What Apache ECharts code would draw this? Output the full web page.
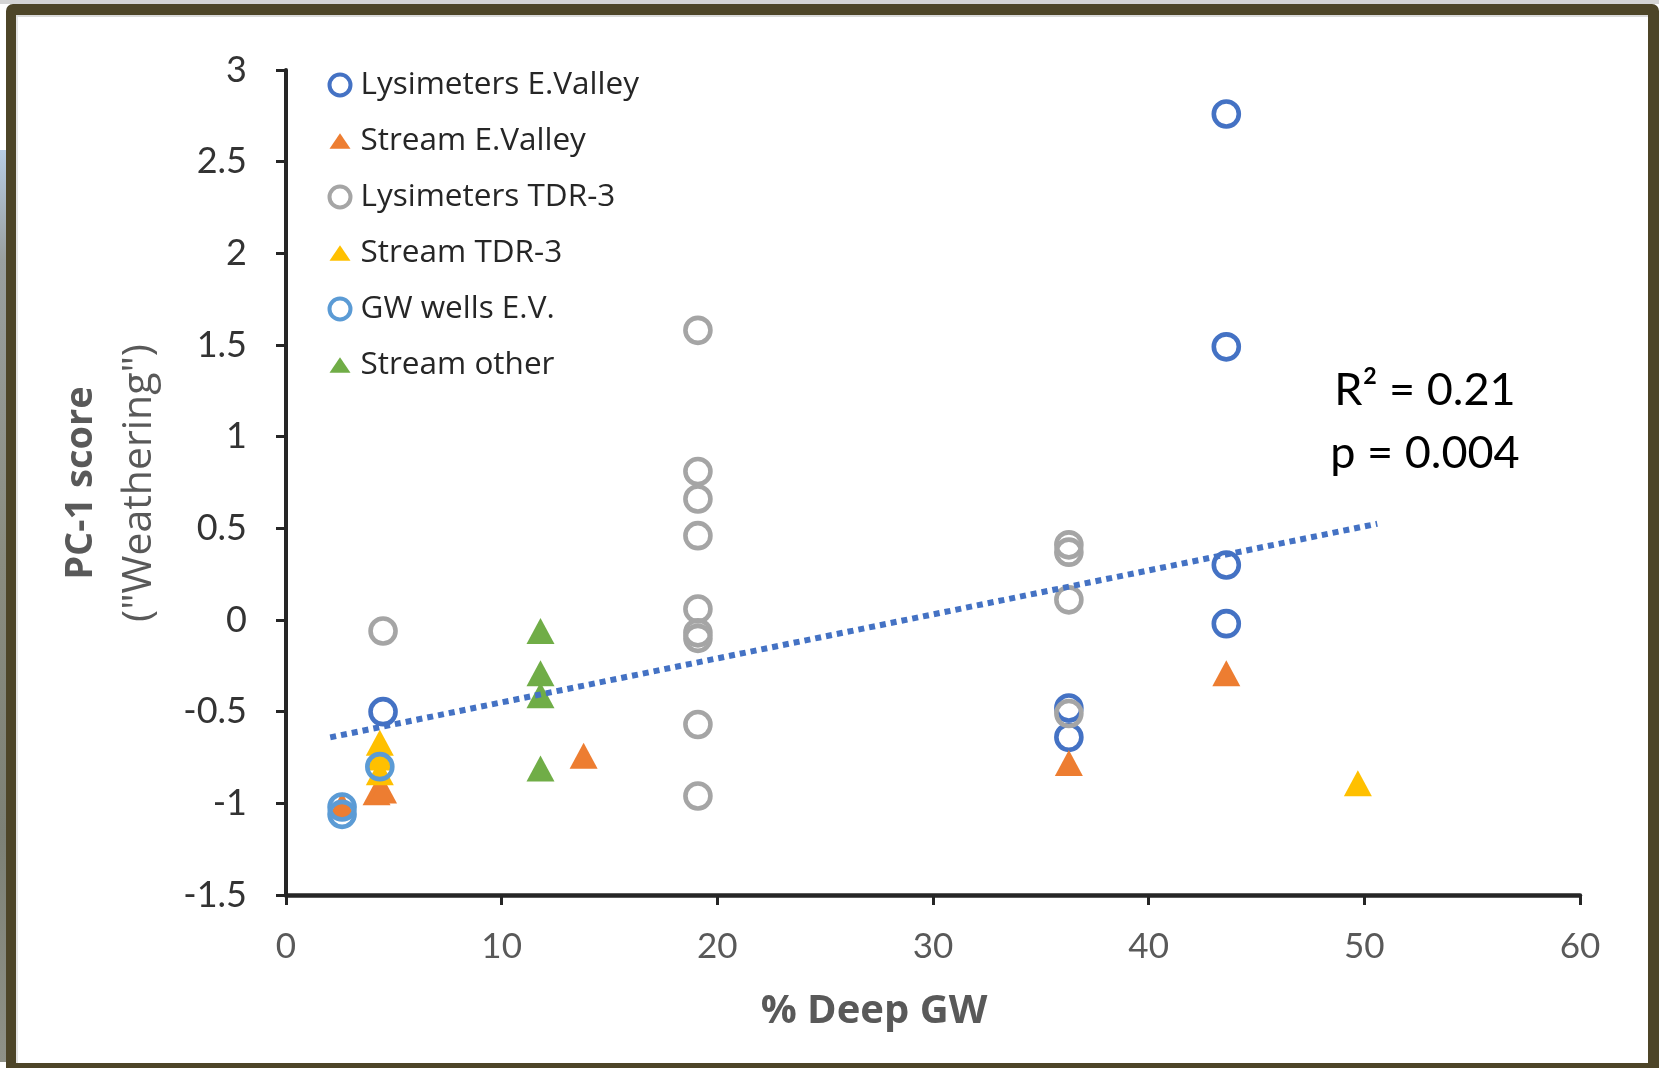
<!DOCTYPE html>
<html>
<head>
<meta charset="utf-8">
<script src="https://cdn.jsdelivr.net/npm/echarts@6/dist/echarts.min.js"></script>
<style>
  html, body { margin: 0; padding: 0; background: #fff; }
  #wrap { position: relative; width: 1659px; height: 1068px; background: #fff; overflow: hidden; }
  #topline { position: absolute; left: 0; top: 0; width: 1659px; height: 4px; background: #d4d4d4; }
  #photo { position: absolute; left: 0; top: 150px; width: 8px; height: 912px;
           background: linear-gradient(#b8cde4, #9aa0a0 12%, #8a8c80 45%, #7d8176 75%, #8f9187); }
  #chart { position: absolute; left: 0; top: 0; width: 1659px; height: 1068px; }
  #frame { position: absolute; left: 6px; top: 4px; width: 1653px; height: 1064px; box-sizing: border-box;
           border-style: solid; border-color: #4d4528; border-width: 11px 11px 5px 10px;
           border-radius: 7px 7px 0 0; box-shadow: inset 0 2px 0 #dadada, inset 2px 0 0 #e4e4e4;
           pointer-events: none; }
</style>
</head>
<body>
<div id="wrap">
  <div id="topline"></div>
  <div id="photo"></div>
  <div id="chart"></div>
  <div id="frame"></div>
</div>
<script>
// Lysimeters, East Valley
const lysEvX = [43.6, 43.6, 43.6, 43.6, 36.3, 36.3, 4.5];
const lysEvY = [2.76, 1.49, 0.30, -0.02, -0.48, -0.64, -0.50];
// Stream samples, East Valley
const streamEvX = [43.6, 36.3, 13.8, 4.2, 4.5, 2.6];
const streamEvY = [-0.29, -0.78, -0.74, -0.94, -0.93, -1.01];
// Lysimeters, TDR-3
const lysTdrX = [19.1, 19.1, 19.1, 19.1, 19.1, 19.1, 19.1, 19.1, 19.1, 36.3, 36.3, 36.3, 36.3, 4.5];
const lysTdrY = [1.58, 0.81, 0.66, 0.46, 0.06, -0.07, -0.10, -0.57, -0.96, 0.41, 0.37, 0.11, -0.51, -0.06];
// Stream samples, TDR-3
const streamTdrX = [49.7, 4.35, 4.35, 4.35];
const streamTdrY = [-0.89, -0.67, -0.75, -0.83];
// Groundwater wells, East Valley
const gwEvX = [4.35, 2.6, 2.6];
const gwEvY = [-0.80, -1.02, -1.06];
// Other stream samples
const streamOtherX = [11.8, 11.8, 11.8, 11.8];
const streamOtherY = [-0.06, -0.29, -0.41, -0.81];
// Linear trend line end points
const trendX = [2.05, 50.6];
const trendY = [-0.64, 0.525];

const xTicks = [0, 10, 20, 30, 40, 50, 60];
const yTicks = [-1.5, -1, -0.5, 0, 0.5, 1, 1.5, 2, 2.5, 3];

const seriesNames = ['Lysimeters E.Valley', 'Stream E.Valley', 'Lysimeters TDR-3',
                     'Stream TDR-3', 'GW wells E.V.', 'Stream other'];
const colors = ['#4472C4', '#ED7D31', '#A5A5A5', '#FFC000', '#5B9BD5', '#70AD47'];

const zip = (xs, ys) => xs.map((x, i) => [x, ys[i]]);

function ringSeries(name, color, xs, ys) {
  return {
    name, type: 'scatter', data: zip(xs, ys),
    symbol: 'circle', symbolSize: 25,
    itemStyle: { color: 'rgba(0,0,0,0)', borderColor: color, borderWidth: 4.6, opacity: 1 },
    emphasis: { disabled: true }
  };
}
function triSeries(name, color, xs, ys) {
  return {
    name, type: 'scatter', data: zip(xs, ys),
    symbol: 'triangle', symbolSize: [28, 26],
    itemStyle: { color, opacity: 1 },
    emphasis: { disabled: true }
  };
}

const triIcon = 'path://M0 16L11 0L22 16Z';
const legendData = seriesNames.map((n, i) => {
  const ring = (i === 0 || i === 2 || i === 4);
  return ring
    ? { name: n, icon: 'circle', itemStyle: { color: 'rgba(0,0,0,0)', borderColor: colors[i], borderWidth: 4 } }
    : { name: n, icon: triIcon, itemStyle: { color: colors[i], borderWidth: 0 } };
});

const chart = echarts.init(document.getElementById('chart'), null, { renderer: 'canvas' });

chart.setOption({
  backgroundColor: 'transparent',
  animation: false,
  grid: { left: 286, right: 79, top: 70, bottom: 173, containLabel: false },
  legend: {
    data: legendData,
    orient: 'vertical',
    left: 327.5, top: 69,
    padding: 0,
    itemWidth: 21, itemHeight: 21, itemGap: 24,
    textStyle: { fontFamily: 'Open Sans', fontSize: 31.5, lineHeight: 30, color: '#262626', padding: [0, 0, 0, 5] },
    selectedMode: false
  },
  xAxis: {
    type: 'value', min: xTicks[0], max: xTicks[xTicks.length - 1], interval: 10,
    axisLine: { show: true, onZero: false, lineStyle: { color: '#262626', width: 4.5 } },
    axisTick: { show: true, length: 10, lineStyle: { color: '#262626', width: 3 } },
    axisLabel: { margin: 34, fontFamily: 'Lato', fontSize: 35, lineHeight: 35, color: '#595959' },
    splitLine: { show: false }
  },
  yAxis: {
    type: 'value', min: yTicks[0], max: yTicks[yTicks.length - 1], interval: 0.5,
    axisLine: { show: true, onZero: false, lineStyle: { color: '#262626', width: 4 } },
    axisTick: { show: true, length: 10, lineStyle: { color: '#262626', width: 3 } },
    axisLabel: { margin: 39, fontFamily: 'Lato', fontSize: 36, color: '#333333' },
    splitLine: { show: false }
  },
  graphic: [
    {
      type: 'text', x: 874, y: 1012,
      style: {
        text: '% Deep GW', align: 'center', verticalAlign: 'middle',
        fontFamily: 'Open Sans', fontWeight: 'bold', fontSize: 40, fill: '#595959'
      }
    },
    {
      type: 'text', x: 110, y: 483, rotation: Math.PI / 2,
      style: {
        text: '{b|PC-1 score}\n{n|("Weathering")}',
        align: 'center', verticalAlign: 'middle',
        rich: {
          b: { fontFamily: 'Open Sans', fontWeight: 'bold', fontSize: 38, lineHeight: 58, fill: '#595959', align: 'center' },
          n: { fontFamily: 'Open Sans', fontSize: 41, lineHeight: 58, fill: '#595959', align: 'center' }
        }
      }
    },
    {
      type: 'text', x: 1425, y: 422,
      style: {
        text: 'R² = 0.21\np = 0.004',
        align: 'center', verticalAlign: 'middle',
        fontFamily: 'Lato', fontSize: 45, lineHeight: 63, fill: '#000000'
      }
    }
  ],
  series: [
    ringSeries(seriesNames[0], colors[0], lysEvX, lysEvY),
    triSeries(seriesNames[1], colors[1], streamEvX, streamEvY),
    ringSeries(seriesNames[2], colors[2], lysTdrX, lysTdrY),
    triSeries(seriesNames[3], colors[3], streamTdrX, streamTdrY),
    ringSeries(seriesNames[4], colors[4], gwEvX, gwEvY),
    triSeries(seriesNames[5], colors[5], streamOtherX, streamOtherY),
    {
      name: 'Linear trend', type: 'line', data: zip(trendX, trendY),
      showSymbol: false, symbol: 'none', z: 5, silent: true,
      lineStyle: { color: '#4472C4', width: 6, type: [6, 5], cap: 'butt' }
    }
  ]
});
</script>
</body>
</html>
